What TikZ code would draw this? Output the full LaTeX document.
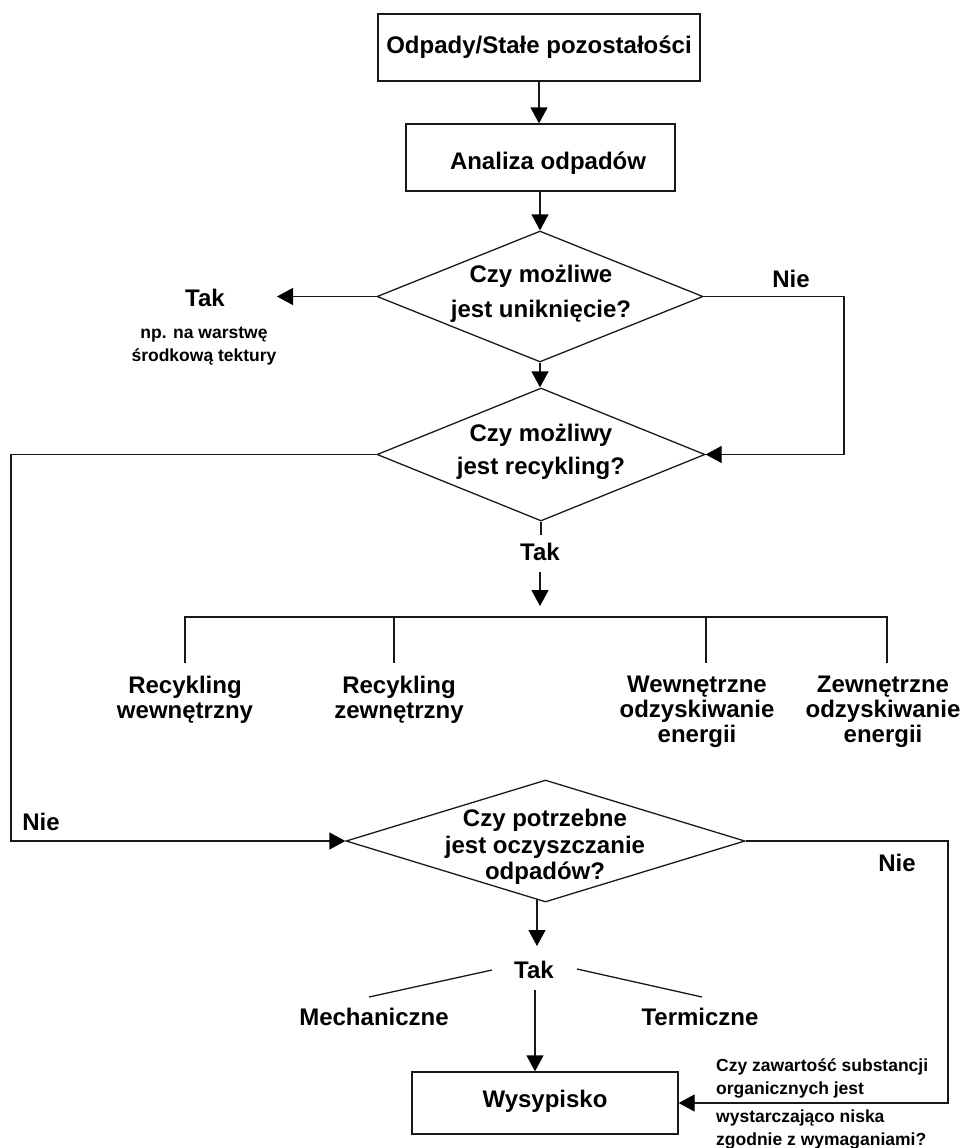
\documentclass[tikz,border=0pt]{standalone}
\usepackage{fontspec}
\setmainfont{Liberation Sans}
\usetikzlibrary{arrows.meta,shapes.geometric}
\begin{document}
\begin{tikzpicture}[x=1pt,y=-1pt,
  ln/.style={draw=black!90, line width=1.3pt},
  arr/.style={ln, -{Triangle[length=16pt,width=17pt,color=black]}},
  box/.style={draw=black!90, line width=1.3pt, rectangle, inner sep=0pt},
  dia/.style={draw=black!90, line width=1.3pt, diamond, inner sep=0pt},
  txt/.style={font=\bfseries\fontsize{24}{30}\selectfont, inner sep=0pt, align=center, text=black},
  small/.style={font=\bfseries\fontsize{17.5}{23}\selectfont, inner sep=0pt, text=black}
  ]
\useasboundingbox (0,0) rectangle (960,1148);
% boxes
\node[box, minimum width=322pt, minimum height=67pt] (b1) at (539,47.5) {};
\node[txt] (b1t) at (539,47) {Odpady/Stałe pozostałości};
\node[box, minimum width=269pt, minimum height=67pt] (b2) at (540.5,157.5) {};
\node[txt] (b2t) at (548,163) {Analiza odpadów};
\node[box, minimum width=266pt, minimum height=62pt] (b3) at (545,1103) {};
\node[txt] (b3t) at (545,1101) {Wysypisko};
% diamonds
\node[dia, minimum width=326pt, minimum height=131pt] (d1) at (540,296.5) {};
\node[txt, font=\bfseries\fontsize{24}{35}\selectfont] (d1t) at (541,294) {Czy możliwe\\jest uniknięcie?};
\node[dia, minimum width=328pt, minimum height=133pt] (d2) at (541,454.5) {};
\node[txt, font=\bfseries\fontsize{24}{33}\selectfont] (d2t) at (541,452) {Czy możliwy\\jest recykling?};
\node[dia, minimum width=399pt, minimum height=122pt] (d3) at (545.5,841) {};
\node[txt, font=\bfseries\fontsize{24}{26.5}\selectfont] (d3t) at (545,847) {Czy potrzebne\\jest oczyszczanie\\odpadów?};
% coordinates
\coordinate (tak1tip) at (277,296.5);
\coordinate (nr1) at (844,296.5);
\coordinate (nl2) at (11,454.5);
\coordinate (nr3) at (948,841);
\coordinate (t2a) at (541,535);
\coordinate (t2b) at (540,572);
\coordinate (t2c) at (540,606);
\coordinate (t3a) at (537,899.4);
\coordinate (t3b) at (537,946);
\coordinate (t3c) at (535,990);
\coordinate (barL) at (185,617);
\coordinate (bar2) at (394,617);
\coordinate (bar3) at (706,617);
\coordinate (barR) at (887,617);
\coordinate (sl1a) at (492,970);
\coordinate (sl1b) at (369,997);
\coordinate (sl2a) at (577,969);
\coordinate (sl2b) at (702,997);
% labels
\node[txt] (tak1) at (205,298) {Tak};
\node[small, align=center] (np) at (204,346.5) {np. na warstwę\\środkową tektury};
\node[txt] (nie1) at (791,279) {Nie};
\node[txt] (tak2) at (540,552) {Tak};
\node[txt, font=\bfseries\fontsize{24}{25}\selectfont] (r1) at (185,700) {Recykling\\wewnętrzny};
\node[txt, font=\bfseries\fontsize{24}{25}\selectfont] (r2) at (399,700) {Recykling\\zewnętrzny};
\node[txt, font=\bfseries\fontsize{24}{25}\selectfont] (r3) at (697,712) {Wewnętrzne\\odzyskiwanie\\energii};
\node[txt, font=\bfseries\fontsize{24}{25}\selectfont] (r4) at (883,712) {Zewnętrzne\\odzyskiwanie\\energii};
\node[txt] (nie2) at (41,822) {Nie};
\node[txt] (nie3) at (897,863) {Nie};
\node[txt] (tak3) at (534,970) {Tak};
\node[txt] (mech) at (374,1017) {Mechaniczne};
\node[txt] (term) at (700,1017) {Termiczne};
\node[small, anchor=west, align=left] (q1) at (716,1078.5) {Czy zawartość substancji\\organicznych jest};
\node[small, anchor=west, align=left] (q2) at (716,1129) {wystarczająco niska\\zgodnie z wymaganiami?};
% connectors
\draw[arr] (b1.south) -- (b1.south |- b2.north);
\draw[arr] (b2.south -| d1.north) -- (d1.north);
\draw[arr] (d1.south) -- (d1.south |- d2.north);
\draw[arr] (d1.west) -- (tak1tip);
\draw[arr] (d1.east) -- (nr1) |- (d2.east);
\draw[arr] (d2.west) -- (nl2) |- (d3.west);
\draw[arr] (d3.east) -- (nr3) |- (b3.east);
\draw[ln] (d2.south) -- (t2a);
\draw[arr] (t2b) -- (t2c);
\draw[ln] (barL) ++(0,46) -- (barL) -- (barR) -- ++(0,46);
\draw[ln] (bar2) -- ++(0,46);
\draw[ln] (bar3) -- ++(0,46);
\draw[arr] (t3a) -- (t3b);
\draw[ln] (sl1a) -- (sl1b);
\draw[ln] (sl2a) -- (sl2b);
\draw[arr] (t3c) -- (t3c |- b3.north);
\end{tikzpicture}
\end{document}
